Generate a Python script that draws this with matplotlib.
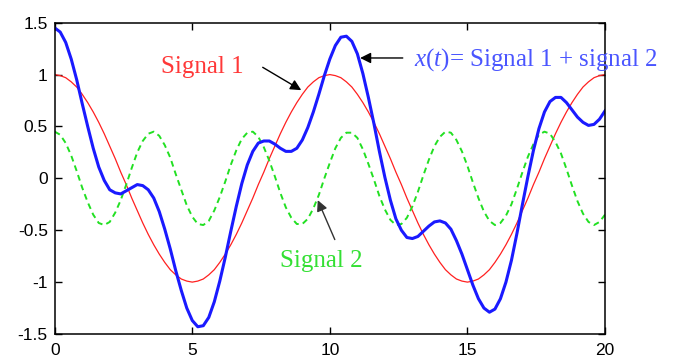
import numpy as np
import matplotlib
matplotlib.use('Agg')
import matplotlib.pyplot as plt

plt.rcParams['font.family'] = ['Liberation Sans', 'DejaVu Sans']
plt.rcParams['mathtext.fontset'] = 'custom'
plt.rcParams['mathtext.rm'] = 'Liberation Serif'
plt.rcParams['mathtext.it'] = 'Liberation Serif:italic'

# time samples, step 0.2 from 0 to 20
t = np.arange(101) * 0.2

# signal 1
signal1 = [1.00, 0.99, 0.97, 0.93, 0.88, 0.81, 0.73, 0.64, 0.54, 0.43,
           0.31, 0.19, 0.06, -0.06, -0.19, -0.31, -0.43, -0.54, -0.64, -0.73,
           -0.81, -0.88, -0.93, -0.97, -0.99, -1.00, -0.99, -0.97, -0.93, -0.88,
           -0.81, -0.73, -0.64, -0.54, -0.43, -0.31, -0.19, -0.06, 0.06, 0.19,
           0.31, 0.43, 0.54, 0.64, 0.73, 0.81, 0.88, 0.93, 0.97, 0.99,
           1.00, 0.99, 0.97, 0.93, 0.88, 0.81, 0.73, 0.64, 0.54, 0.43,
           0.31, 0.19, 0.06, -0.06, -0.19, -0.31, -0.43, -0.54, -0.64, -0.73,
           -0.81, -0.88, -0.93, -0.97, -0.99, -1.00, -0.99, -0.97, -0.93, -0.88,
           -0.81, -0.73, -0.64, -0.54, -0.43, -0.31, -0.19, -0.06, 0.06, 0.19,
           0.31, 0.43, 0.54, 0.64, 0.73, 0.81, 0.88, 0.93, 0.97, 0.99,
           1.00]

# signal 2
signal2 = [0.45, 0.42, 0.34, 0.22, 0.07, -0.09, -0.23, -0.35, -0.43, -0.45,
           -0.42, -0.33, -0.21, -0.06, 0.10, 0.25, 0.36, 0.43, 0.45, 0.41,
           0.32, 0.20, 0.04, -0.11, -0.26, -0.37, -0.44, -0.45, -0.41, -0.31,
           -0.18, -0.03, 0.13, 0.27, 0.38, 0.44, 0.45, 0.40, 0.30, 0.17,
           0.02, -0.14, -0.28, -0.38, -0.44, -0.44, -0.39, -0.29, -0.16, 0.00,
           0.15, 0.29, 0.39, 0.44, 0.44, 0.39, 0.28, 0.14, -0.01, -0.17,
           -0.30, -0.40, -0.45, -0.44, -0.38, -0.27, -0.13, 0.03, 0.18, 0.31,
           0.40, 0.45, 0.44, 0.37, 0.26, 0.12, -0.04, -0.19, -0.32, -0.41,
           -0.45, -0.43, -0.36, -0.25, -0.10, 0.06, 0.21, 0.33, 0.42, 0.45,
           0.43, 0.35, 0.24, 0.09, -0.07, -0.22, -0.34, -0.42, -0.45, -0.42,
           -0.35]

# x(t) = signal 1 + signal 2
xsum = np.array(signal1) + np.array(signal2)

xticks = [0, 5, 10, 15, 20]
yticks = [-1.5, -1, -0.5, 0, 0.5, 1, 1.5]
yticklabels = ['-1.5', '-1', '-0.5', '0', '0.5', '1', '1.5']

fig = plt.figure(figsize=(6.75, 3.58), dpi=100)
ax = fig.add_axes([54.7/675, 24/358, 550.3/675, 311.3/358])

ax.plot(t, signal1, color='#ff2020', lw=0.9)
ax.plot(t, signal2, color='#22e022', lw=1.4, ls=(0, (3, 2.2)))
ax.plot(t, xsum, color='#1a1aff', lw=2.2)

ax.set_xlim(0, 20)
ax.set_ylim(-1.5, 1.5)
ax.set_xticks(xticks)
ax.set_yticks(yticks)
ax.set_yticklabels(yticklabels)
ax.tick_params(direction='in', top=True, right=True, length=5, width=1,
               labelsize=12.5)
ax.tick_params(axis='x', pad=6.5)
ax.tick_params(axis='y', pad=5)
for sp in ax.spines.values():
    sp.set_linewidth(1.1)

serif = 'Liberation Serif'
arrow = dict(arrowstyle='-|>', color='black', lw=1.0, mutation_scale=16,
             shrinkA=0, shrinkB=0)

ax.text(3.85, 1.02, 'Signal 1', color='#ff3838', family=serif, fontsize=18)
ax.annotate('', xy=(8.96, 0.85), xytext=(7.56, 1.07), arrowprops=arrow)

ax.text(13.05, 1.085, r'$x$($t$)= Signal 1 + signal 2', color='#4a55ff',
        family=serif, fontsize=18, clip_on=False)
ax.annotate('', xy=(11.1, 1.16), xytext=(12.65, 1.16), arrowprops=arrow)

ax.text(8.18, -0.857, 'Signal 2', color='#33e033', family=serif, fontsize=18)
ax.annotate('', xy=(9.56, -0.21), xytext=(10.18, -0.59),
            arrowprops=dict(arrow, color='#333333'))

plt.savefig('out.png', dpi=100)
